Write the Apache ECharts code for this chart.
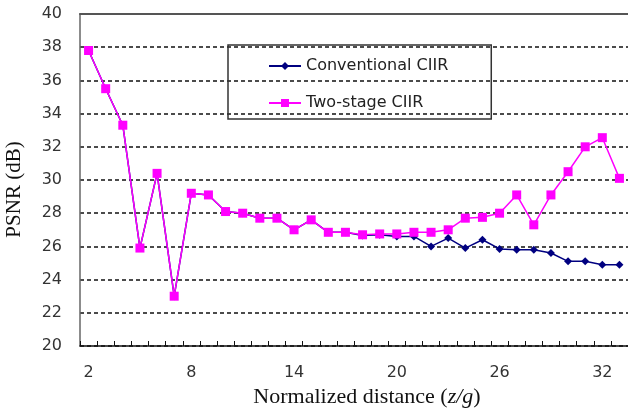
<!DOCTYPE html>
<html>
<head>
<meta charset="utf-8">
<script src="https://cdn.jsdelivr.net/npm/echarts@6/dist/echarts.min.js"></script>
<style>
  html, body { margin: 0; padding: 0; background: #fff; }
  #chart { width: 628px; height: 417px; }
</style>
</head>
<body>
<div id="chart"></div>
<script>
// normalized distance z/g
const distances = ['2', '3', '4', '5', '6', '7', '8', '9', '10', '11', '12', '13', '14', '15', '16', '17',
  '18', '19', '20', '21', '22', '23', '24', '25', '26', '27', '28', '29', '30', '31', '32', '33'];

// PSNR (dB)
const conventional = [37.8, 35.5, 33.3, 25.9, 30.4, 23.0, 29.2, 29.1, 28.1, 28.0, 27.7, 27.7, 27.0, 27.6, 26.85, 26.85,
  26.65, 26.7, 26.6, 26.6, 26.0, 26.5, 25.9, 26.4, 25.85, 25.8, 25.8, 25.6, 25.1, 25.1, 24.9, 24.9];
const twoStage = [37.8, 35.5, 33.3, 25.9, 30.4, 23.0, 29.2, 29.1, 28.1, 28.0, 27.7, 27.7, 27.0, 27.6, 26.85, 26.85,
  26.7, 26.75, 26.75, 26.85, 26.85, 27.0, 27.7, 27.75, 28.0, 29.1, 27.3, 29.1, 30.5, 32.0, 32.55, 30.1];

const sans = 'DejaVu Sans';
const serif = 'Liberation Serif';

const myChart = echarts.init(document.getElementById('chart'));
const option = {
  backgroundColor: '#fff',
  animation: false,
  grid: { left: 80, top: 14, right: 0, bottom: 71, outerBoundsMode: 'none' },
  legend: {
    orient: 'vertical',
    left: 228,
    top: 45,
    padding: [13, 43, 8, 40],
    itemGap: 21,
    itemWidth: 32,
    itemHeight: 10,
    borderColor: '#333',
    borderWidth: 1.5,
    textStyle: { fontFamily: sans, fontSize: 16, color: '#222' },
    data: ['Conventional CIIR', 'Two-stage CIIR']
  },
  xAxis: [{
    type: 'category',
    data: distances,
    boundaryGap: true,
    name: 'Normalized distance ({i|z/g})',
    nameLocation: 'middle',
    nameGap: 40,
    nameTextStyle: {
      fontFamily: serif, fontSize: 22, color: '#111',
      padding: [0, 0, 0, 26],
      rich: { i: { fontFamily: serif, fontSize: 22, fontStyle: 'italic', color: '#111' } }
    },
    axisLine: { lineStyle: { color: '#111', width: 1.5 } },
    axisTick: { show: true, inside: true, length: 5, interval: 0, lineStyle: { color: '#111' } },
    axisLabel: { interval: 5, margin: 19, fontFamily: sans, fontSize: 16, color: '#333' },
    splitLine: { show: false }
  }, {
    type: 'category',
    data: distances,
    position: 'top',
    axisLine: { show: true, lineStyle: { color: '#555', width: 2 } },
    axisTick: { show: false },
    axisLabel: { show: false },
    splitLine: { show: false }
  }],
  yAxis: {
    type: 'value',
    min: 20,
    max: 40,
    interval: 2,
    name: 'PSNR (dB)',
    nameLocation: 'middle',
    nameGap: 55,
    nameTextStyle: { fontFamily: serif, fontSize: 21, color: '#111', padding: [0, 19, 0, 0] },
    axisLine: { show: true, lineStyle: { color: '#666', width: 1.5 } },
    axisTick: { show: false },
    axisLabel: { margin: 18, fontFamily: sans, fontSize: 16, color: '#333' },
    splitLine: { show: true, lineStyle: { color: '#111', width: 1.5, type: [4, 3] } }
  },
  series: [{
    name: 'Conventional CIIR',
    type: 'line',
    data: conventional,
    symbol: 'diamond',
    symbolSize: 8,
    lineStyle: { color: '#000080', width: 1.5 },
    itemStyle: { color: '#000080' }
  }, {
    name: 'Two-stage CIIR',
    type: 'line',
    data: twoStage,
    symbol: 'rect',
    symbolSize: 9,
    lineStyle: { color: '#ff00ff', width: 1.5 },
    itemStyle: { color: '#ff00ff' }
  }]
};
myChart.setOption(option);
window.addEventListener('resize', function () {
  myChart.resize();
});
</script>
</body>
</html>
